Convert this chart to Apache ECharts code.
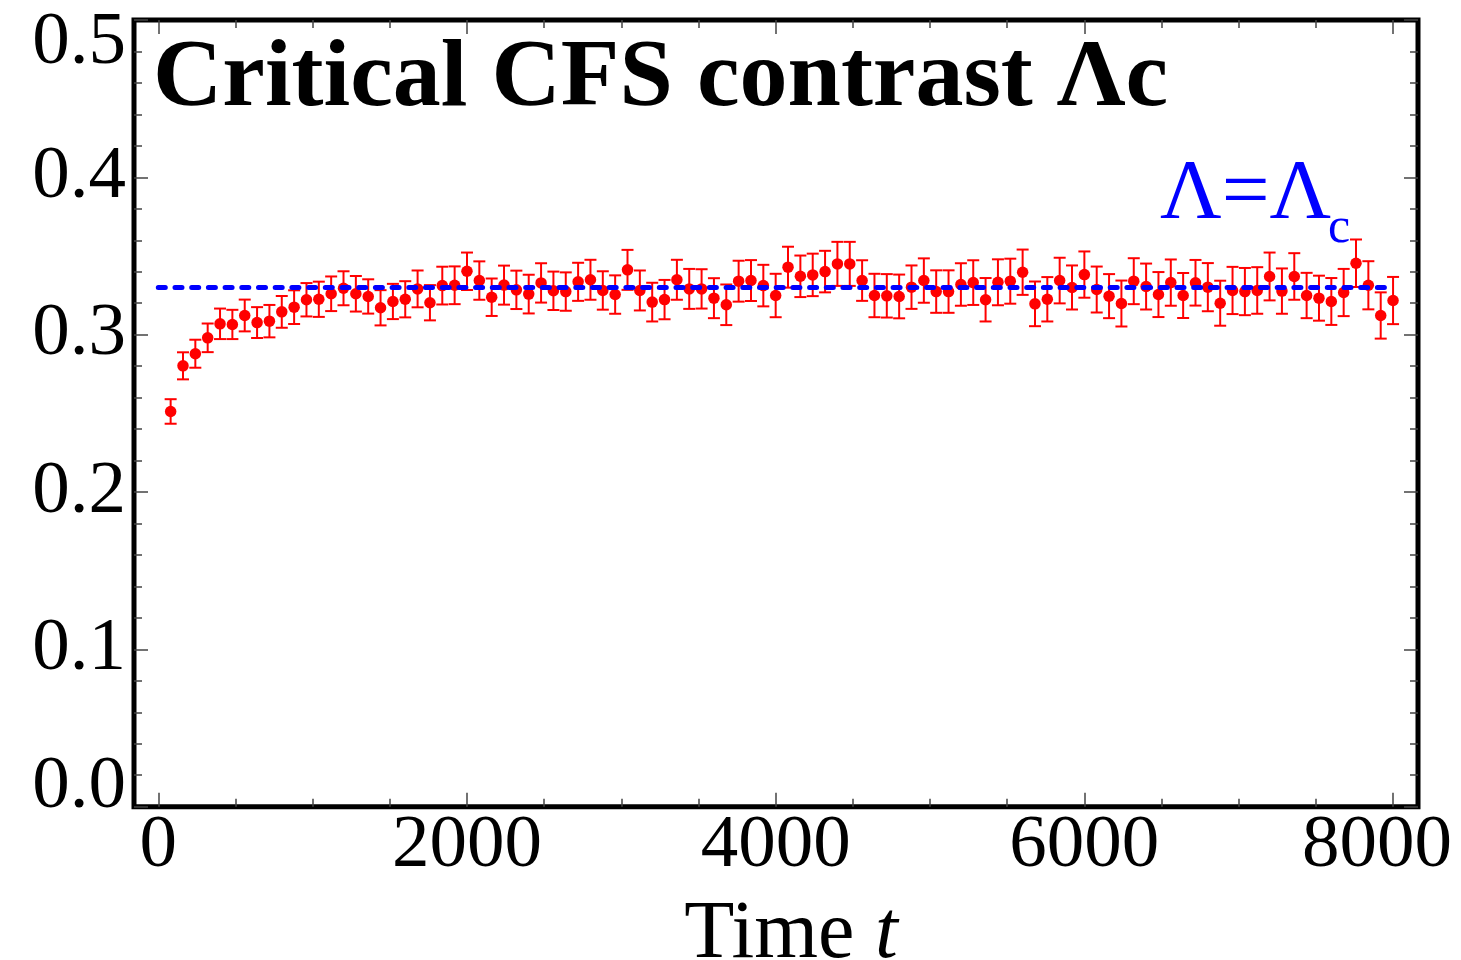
<!DOCTYPE html>
<html><head><meta charset="utf-8">
<script src="https://cdn.jsdelivr.net/npm/echarts@6/dist/echarts.min.js"></script>
<style>html,body{margin:0;padding:0;background:#fff}#c{width:1461px;height:960px}</style>
</head><body><div id="c"></div>
<script>
const times = [80,160,240,320,400,480,560,640,720,800,
  880,960,1040,1120,1200,1280,1360,1440,1520,1600,
  1680,1760,1840,1920,2000,2080,2160,2240,2320,2400,
  2480,2560,2640,2720,2800,2880,2960,3040,3120,3200,
  3280,3360,3440,3520,3600,3680,3760,3840,3920,4000,
  4080,4160,4240,4320,4400,4480,4560,4640,4720,4800,
  4880,4960,5040,5120,5200,5280,5360,5440,5520,5600,
  5680,5760,5840,5920,6000,6080,6160,6240,6320,6400,
  6480,6560,6640,6720,6800,6880,6960,7040,7120,7200,
  7280,7360,7440,7520,7600,7680,7760,7840,7920,8000];
const values = [0.2512,0.2802,0.2879,0.2980,0.3069,0.3065,0.3122,0.3077,0.3086,0.3145,
  0.3175,0.3222,0.3225,0.3260,0.3295,0.3260,0.3243,0.3171,0.3211,0.3225,
  0.3291,0.3203,0.3312,0.3314,0.3403,0.3344,0.3238,0.3315,0.3285,0.3258,
  0.3329,0.3279,0.3274,0.3336,0.3349,0.3281,0.3255,0.3412,0.3281,0.3207,
  0.3223,0.3349,0.3291,0.3291,0.3232,0.3190,0.3340,0.3344,0.3312,0.3249,
  0.3429,0.3371,0.3380,0.3401,0.3450,0.3450,0.3344,0.3249,0.3247,0.3243,
  0.3302,0.3344,0.3274,0.3274,0.3319,0.3331,0.3222,0.3333,0.3340,0.3397,
  0.3196,0.3225,0.3344,0.3300,0.3382,0.3287,0.3245,0.3198,0.3340,0.3306,
  0.3255,0.3331,0.3249,0.3330,0.3302,0.3200,0.3281,0.3274,0.3281,0.3370,
  0.3277,0.3370,0.3249,0.3232,0.3211,0.3268,0.3454,0.3314,0.3122,0.3217];
const errors = [0.0078,0.0086,0.0089,0.0091,0.0097,0.0093,0.0101,0.0098,0.0103,0.0101,
  0.0107,0.0106,0.0112,0.0110,0.0108,0.0113,0.0109,0.0112,0.0112,0.0115,
  0.0117,0.0112,0.0120,0.0120,0.0119,0.0122,0.0119,0.0124,0.0122,0.0123,
  0.0125,0.0122,0.0122,0.0121,0.0127,0.0122,0.0122,0.0127,0.0127,0.0123,
  0.0125,0.0127,0.0127,0.0125,0.0127,0.0129,0.0130,0.0130,0.0132,0.0138,
  0.0130,0.0132,0.0135,0.0132,0.0140,0.0140,0.0129,0.0138,0.0138,0.0139,
  0.0138,0.0141,0.0135,0.0135,0.0135,0.0142,0.0138,0.0146,0.0143,0.0144,
  0.0142,0.0141,0.0145,0.0140,0.0147,0.0146,0.0140,0.0146,0.0146,0.0146,
  0.0143,0.0147,0.0143,0.0145,0.0153,0.0143,0.0150,0.0150,0.0148,0.0152,
  0.0144,0.0148,0.0144,0.0143,0.0149,0.0150,0.0151,0.0153,0.0147,0.0150];
const refLevel = 0.33;          // Λ = Λc
const refRange = [0, 8000];
const xMajorTicks = [0, 2000, 4000, 6000, 8000];
const xMinorTicks = [500,1000,1500,2500,3000,3500,4500,5000,5500,6500,7000,7500];
const xRange = [-157.4, 8161.6];
const yRange = [0, 0.5];

const SERIF = '"Liberation Serif","Times New Roman",serif';
const tickColor = '#444';
const lab = {fontFamily: SERIF, fontSize: 75, color: '#000'};

function xAxisDef(pos, ticks, len, labels) {
  return {
    type: 'value', position: pos, min: xRange[0], max: xRange[1],
    axisLine: {show: false, onZero: false},
    splitLine: {show: false},
    axisTick: {show: true, inside: true, length: len, customValues: ticks,
      lineStyle: {color: tickColor, width: 1.5}},
    axisLabel: labels ? {
      show: true, customValues: xMajorTicks, margin: 2,
      fontFamily: SERIF, fontSize: 75, color: '#000',
      formatter: v => v === 8000 ? '{r|' + v + '}' : '{n|' + v + '}',
      rich: {n: lab, r: Object.assign({padding: [0, 32, 0, 0]}, lab)}
    } : {show: false}
  };
}
function yAxisDef(pos, labels) {
  return {
    type: 'value', position: pos, min: yRange[0], max: yRange[1], interval: 0.1,
    axisLine: {show: false, onZero: false},
    splitLine: {show: false},
    axisTick: {show: true, inside: true, length: 14, lineStyle: {color: tickColor, width: 1.5}},
    minorTick: {show: true, splitNumber: 5, length: 8, lineStyle: {color: tickColor, width: 1.5}},
    axisLabel: labels ? {
      show: true, margin: 8, fontFamily: SERIF, fontSize: 75, color: '#000',
      formatter: v => {
        const s = v.toFixed(1);
        if (Math.abs(v) < 1e-9) return '{lo|' + s + '}';
        if (Math.abs(v - 0.5) < 1e-9) return '{hi|' + s + '}';
        return '{n|' + s + '}';
      },
      rich: {
        n: lab,
        lo: Object.assign({padding: [0, 0, 38, 0]}, lab),
        hi: Object.assign({padding: [46, 0, 0, 0]}, lab)
      }
    } : {show: false}
  };
}

const xAxes = [
  xAxisDef('bottom', xMajorTicks, 14, true),
  xAxisDef('bottom', xMinorTicks, 8, false),
  xAxisDef('top', xMajorTicks, 14, false),
  xAxisDef('top', xMinorTicks, 8, false)
];
xAxes[0].name = '{a|Time }{b|t}';
xAxes[0].nameLocation = 'middle';
xAxes[0].nameGap = 88;
xAxes[0].nameMoveOverlap = false;
xAxes[0].nameTextStyle = {
  padding: [0, 0, 0, 30],
  rich: {
    a: {fontFamily: SERIF, fontSize: 82, color: '#000'},
    b: {fontFamily: SERIF, fontSize: 82, color: '#000', fontStyle: 'italic'}
  }
};

const chart = echarts.init(document.getElementById('c'), null, {renderer: 'canvas'});
chart.setOption({
  animation: false,
  backgroundColor: '#fff',
  grid: {left: 134, right: 43, top: 20, bottom: 153.3, show: true,
    borderColor: '#000', borderWidth: 5, backgroundColor: 'transparent',
    containLabel: false, outerBoundsMode: 'none'},
  xAxis: xAxes,
  yAxis: [yAxisDef('left', true), yAxisDef('right', false)],
  graphic: [
    {type: 'text', x: 153, y: 80, z: 100,
      style: {text: 'Critical CFS contrast \u039Bc', fontFamily: SERIF, fontSize: 96,
        fontWeight: 'bold', fill: '#000', align: 'left', verticalAlign: 'middle'}},
    {type: 'text', x: 1160, y: 196, z: 100,
      style: {text: '\u039B=\u039B', fontFamily: SERIF, fontSize: 85,
        fill: '#0000ff', align: 'left', verticalAlign: 'middle'}},
    {type: 'text', x: 1328, y: 229, z: 100,
      style: {text: 'c', fontFamily: SERIF, fontSize: 50,
        fill: '#0000ff', align: 'left', verticalAlign: 'middle'}}
  ],
  series: [
    {
      type: 'custom', xAxisIndex: 0, yAxisIndex: 0, z: 2,
      data: times.map((t, i) => [t, values[i] - errors[i], values[i] + errors[i]]),
      renderItem: (params, api) => {
        const x = api.value(0);
        const pLo = api.coord([x, api.value(1)]);
        const pHi = api.coord([x, api.value(2)]);
        const hw = 6;
        const st = {stroke: '#ff0000', lineWidth: 2};
        return {type: 'group', children: [
          {type: 'line', shape: {x1: pLo[0], y1: pLo[1], x2: pHi[0], y2: pHi[1]}, style: st},
          {type: 'line', shape: {x1: pLo[0] - hw, y1: pLo[1], x2: pLo[0] + hw, y2: pLo[1]}, style: st},
          {type: 'line', shape: {x1: pHi[0] - hw, y1: pHi[1], x2: pHi[0] + hw, y2: pHi[1]}, style: st}
        ]};
      }
    },
    {
      type: 'scatter', xAxisIndex: 0, yAxisIndex: 0, z: 3,
      data: times.map((t, i) => [t, values[i]]),
      symbol: 'circle', symbolSize: 11.5,
      itemStyle: {color: '#ff0000', opacity: 1}
    },
    {
      type: 'line', xAxisIndex: 0, yAxisIndex: 0, z: 4,
      data: [[refRange[0], refLevel], [refRange[1], refLevel]],
      symbol: 'none',
      lineStyle: {color: '#0000ff', width: 5, type: [7, 9.7], cap: 'round', opacity: 1}
    }
  ]
});
</script></body></html>
